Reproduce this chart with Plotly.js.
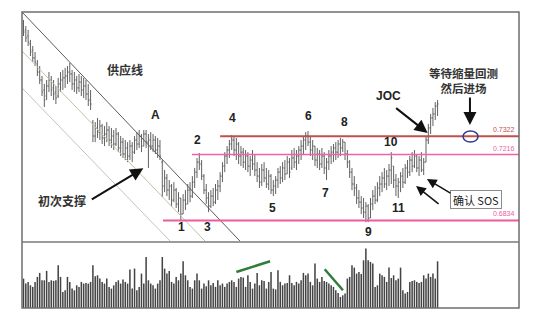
<!DOCTYPE html>
<html>
<head>
<meta charset="utf-8">
<script src="https://cdn.plot.ly/plotly-3.0.1.min.js"></script>
<style>
  html, body { margin: 0; padding: 0; background: #ffffff; }
  #chart { width: 544px; height: 321px; }
</style>
</head>
<body>
<div id="chart"></div>
<script>
// Daily price bars (open / high / low / close) and volume, oldest first.
const barOpen = [
  0.7973,0.7938,0.7903,0.7857,0.7822,0.7776,0.7741,0.7694,0.7648,0.7590,
  0.7555,0.7613,0.7648,0.7602,0.7578,0.7555,0.7625,0.7648,0.7660,0.7671,
  0.7694,0.7683,0.7625,0.7648,0.7602,0.7636,0.7590,0.7613,0.7567,0.7532,
  0.7404,0.7323,0.7370,0.7346,0.7381,0.7312,0.7335,0.7358,0.7300,0.7323,
  0.7277,0.7335,0.7254,0.7288,0.7219,0.7254,0.7207,0.7265,0.7230,0.7300,
  0.7277,0.7323,0.7265,0.7335,0.7288,0.7300,0.7265,0.7300,0.7242,0.7265,
  0.7172,0.7033,0.7080,0.7010,0.7033,0.6952,0.7010,0.6929,0.6964,0.6871,
  0.6952,0.6929,0.7010,0.6975,0.7056,0.7114,0.7172,0.7161,0.7091,0.7010,
  0.6964,0.6917,0.6975,0.6940,0.7010,0.7033,0.7091,0.7149,0.7207,0.7242,
  0.7277,0.7300,0.7242,0.7277,0.7207,0.7230,0.7172,0.7207,0.7149,0.7184,
  0.7161,0.7126,0.7091,0.7056,0.7126,0.7080,0.7045,0.7091,0.7010,0.7033,
  0.7068,0.7114,0.7080,0.7138,0.7103,0.7172,0.7138,0.7196,0.7172,0.7207,
  0.7242,0.7265,0.7300,0.7323,0.7288,0.7242,0.7265,0.7184,0.7219,0.7161,
  0.7207,0.7138,0.7172,0.7207,0.7230,0.7254,0.7230,0.7277,0.7254,0.7288,
  0.7219,0.7172,0.7114,0.7045,0.7022,0.6964,0.6940,0.6906,0.6882,0.6917,
  0.6848,0.6929,0.6975,0.6952,0.7022,0.7045,0.7080,0.7045,0.7091,0.7126,
  0.7149,0.7068,0.7033,0.7056,0.7091,0.7056,0.7138,0.7114,0.7184,0.7149,
  0.7207,0.7138,0.7184,0.7126,0.7172,0.7300,0.7370,0.7428,0.7451,0.7497
];
const barHigh = [
  0.7996,0.7961,0.7938,0.7880,0.7845,0.7810,0.7764,0.7729,0.7671,0.7625,
  0.7648,0.7694,0.7671,0.7648,0.7613,0.7660,0.7694,0.7706,0.7718,0.7729,
  0.7747,0.7706,0.7694,0.7671,0.7683,0.7671,0.7660,0.7648,0.7625,0.7590,
  0.7416,0.7404,0.7428,0.7416,0.7393,0.7381,0.7404,0.7381,0.7370,0.7358,
  0.7370,0.7346,0.7323,0.7312,0.7300,0.7288,0.7300,0.7288,0.7323,0.7346,
  0.7358,0.7335,0.7358,0.7358,0.7335,0.7346,0.7335,0.7323,0.7312,0.7300,
  0.7184,0.7126,0.7103,0.7068,0.7045,0.7056,0.7022,0.6998,0.6964,0.6987,
  0.7010,0.7045,0.7056,0.7091,0.7138,0.7196,0.7225,0.7184,0.7103,0.7045,
  0.6998,0.7010,0.7022,0.7045,0.7068,0.7114,0.7172,0.7230,0.7265,0.7300,
  0.7329,0.7323,0.7312,0.7288,0.7265,0.7254,0.7242,0.7230,0.7207,0.7242,
  0.7219,0.7172,0.7138,0.7161,0.7172,0.7138,0.7126,0.7103,0.7068,0.7091,
  0.7138,0.7149,0.7172,0.7184,0.7207,0.7196,0.7242,0.7254,0.7242,0.7265,
  0.7300,0.7323,0.7346,0.7352,0.7323,0.7300,0.7265,0.7254,0.7242,0.7254,
  0.7230,0.7196,0.7242,0.7265,0.7277,0.7288,0.7300,0.7312,0.7306,0.7288,
  0.7242,0.7184,0.7138,0.7091,0.7045,0.7010,0.6975,0.6964,0.6940,0.6929,
  0.6964,0.7010,0.7033,0.7056,0.7091,0.7114,0.7138,0.7126,0.7161,0.7230,
  0.7149,0.7103,0.7080,0.7114,0.7138,0.7161,0.7184,0.7207,0.7230,0.7242,
  0.7219,0.7207,0.7230,0.7196,0.7323,0.7393,0.7451,0.7486,0.7520,0.7532
];
const barLow = [
  0.7903,0.7868,0.7845,0.7787,0.7752,0.7729,0.7671,0.7625,0.7555,0.7491,
  0.7532,0.7578,0.7555,0.7532,0.7509,0.7544,0.7578,0.7590,0.7602,0.7625,
  0.7636,0.7590,0.7578,0.7567,0.7578,0.7555,0.7544,0.7532,0.7497,0.7474,
  0.7288,0.7288,0.7312,0.7300,0.7277,0.7265,0.7288,0.7265,0.7254,0.7242,
  0.7265,0.7230,0.7207,0.7196,0.7184,0.7172,0.7184,0.7172,0.7219,0.7242,
  0.7254,0.7230,0.7265,0.7254,0.7138,0.7242,0.7230,0.7219,0.7196,0.7184,
  0.6969,0.6998,0.6975,0.6952,0.6917,0.6940,0.6906,0.6882,0.6836,0.6871,
  0.6894,0.6929,0.6940,0.6964,0.7022,0.7080,0.7126,0.7068,0.6987,0.6929,
  0.6882,0.6906,0.6917,0.6929,0.6952,0.6998,0.7056,0.7114,0.7161,0.7196,
  0.7242,0.7207,0.7184,0.7161,0.7149,0.7138,0.7126,0.7114,0.7091,0.7126,
  0.7091,0.7056,0.7022,0.7033,0.7056,0.7022,0.7010,0.6987,0.6975,0.6987,
  0.7022,0.7045,0.7056,0.7068,0.7103,0.7080,0.7126,0.7138,0.7126,0.7161,
  0.7184,0.7219,0.7242,0.7265,0.7207,0.7184,0.7149,0.7138,0.7126,0.7138,
  0.7103,0.7068,0.7126,0.7161,0.7172,0.7184,0.7196,0.7207,0.7230,0.7184,
  0.7138,0.7080,0.7010,0.6975,0.6929,0.6906,0.6871,0.6848,0.6824,0.6824,
  0.6848,0.6894,0.6929,0.6940,0.6975,0.6998,0.7022,0.7010,0.7033,0.7045,
  0.7022,0.6975,0.6964,0.6998,0.7022,0.7045,0.7080,0.7091,0.7114,0.7138,
  0.7114,0.7091,0.7114,0.7097,0.7172,0.7277,0.7335,0.7381,0.7416,0.7439
];
const barClose = [
  0.7926,0.7892,0.7868,0.7810,0.7776,0.7752,0.7694,0.7648,0.7578,0.7532,
  0.7613,0.7648,0.7590,0.7567,0.7544,0.7625,0.7648,0.7660,0.7671,0.7694,
  0.7683,0.7625,0.7648,0.7602,0.7636,0.7590,0.7613,0.7567,0.7532,0.7509,
  0.7323,0.7370,0.7346,0.7381,0.7312,0.7335,0.7358,0.7300,0.7323,0.7277,
  0.7335,0.7254,0.7288,0.7219,0.7254,0.7207,0.7265,0.7230,0.7300,0.7277,
  0.7323,0.7265,0.7335,0.7288,0.7300,0.7265,0.7300,0.7242,0.7265,0.7207,
  0.7033,0.7080,0.7010,0.7033,0.6952,0.7010,0.6929,0.6964,0.6871,0.6952,
  0.6929,0.7010,0.6975,0.7056,0.7114,0.7172,0.7161,0.7091,0.7010,0.6964,
  0.6917,0.6975,0.6940,0.7010,0.7033,0.7091,0.7149,0.7207,0.7242,0.7277,
  0.7300,0.7242,0.7277,0.7207,0.7230,0.7172,0.7207,0.7149,0.7184,0.7161,
  0.7126,0.7091,0.7056,0.7126,0.7080,0.7045,0.7091,0.7010,0.7033,0.7068,
  0.7114,0.7080,0.7138,0.7103,0.7172,0.7114,0.7196,0.7172,0.7207,0.7242,
  0.7265,0.7300,0.7323,0.7288,0.7242,0.7265,0.7184,0.7219,0.7161,0.7207,
  0.7138,0.7172,0.7207,0.7230,0.7254,0.7230,0.7277,0.7254,0.7288,0.7219,
  0.7172,0.7114,0.7045,0.7022,0.6964,0.6940,0.6906,0.6882,0.6917,0.6848,
  0.6929,0.6975,0.6952,0.7022,0.7045,0.7080,0.7045,0.7091,0.7126,0.7196,
  0.7068,0.7033,0.7056,0.7091,0.7056,0.7138,0.7114,0.7184,0.7149,0.7207,
  0.7138,0.7184,0.7126,0.7172,0.7300,0.7370,0.7428,0.7451,0.7497,0.7509
];
const volume = [
  294,244,261,227,211,261,311,351,277,277,
  371,261,277,271,277,427,311,161,177,311,
  261,194,177,227,211,261,244,251,244,261,
  427,317,327,294,261,244,294,211,194,227,
  261,277,244,284,261,244,384,194,394,177,
  211,344,244,510,277,244,227,194,244,277,
  510,394,344,371,261,244,311,277,344,467,
  327,277,211,194,277,344,277,194,244,217,
  277,227,251,211,277,227,244,211,244,261,
  277,261,211,294,311,304,211,327,261,194,
  244,351,227,277,271,194,261,361,194,186,
  377,261,227,244,251,327,251,227,261,244,
  277,351,327,344,261,227,444,294,261,311,
  271,261,244,227,211,177,150,111,127,144,
  294,311,427,404,344,361,340,477,594,477,
  461,444,211,227,344,327,311,261,404,300,
  327,277,294,404,177,144,161,261,271,277,
  261,251,261,327,294,344,311,344,294,467
];
const barIndex = volume.map((_, i) => i);

// Horizontal support / resistance levels
const levelPrices = [0.7322, 0.7216, 0.6834];
const levelStart = [85, 72.8, 60.3];
const levelColors = ['#c0504d', '#f062a6', '#ec5a9f'];
const levelWidths = [2, 1.5, 2];

// Down-channel lines: [startIndex, startPrice, endIndex, endPrice]
const supplyLine = [-0.65, 0.8042, 93.6, 0.6714];
const channelMid = [-0.65, 0.7816, 78.5, 0.6714];
const channelLow = [-0.65, 0.7602, 63.4, 0.6714];

// Volume trend lines: [startIndex, startVol, endIndex, endVol]
const volRise = [92, 360, 106.6, 467];
const volFall = [130.2, 387, 138.1, 177];

const xMin = -0.65, xMax = 214.2;
const priceRange = [0.6709, 0.8042];
const volRange = [0, 660];
const volShare = 66 / 296;

const cjk = 'Noto Sans CJK SC, sans-serif';
const latin = 'Liberation Sans, Arial, sans-serif';

const priceTrace = {
  type: 'ohlc',
  x: barIndex, open: barOpen, high: barHigh, low: barLow, close: barClose,
  xaxis: 'x', yaxis: 'y',
  increasing: { line: { color: '#616161', width: 1 } },
  decreasing: { line: { color: '#616161', width: 1 } },
  tickwidth: 0.45,
  hoverinfo: 'skip', showlegend: false
};
const volumeTrace = {
  type: 'bar',
  x: barIndex, y: volume,
  xaxis: 'x', yaxis: 'y2',
  width: 0.66,
  marker: { color: '#444444', line: { width: 0 } },
  hoverinfo: 'skip', showlegend: false
};

const shapes = [];
function seg(c, color, width, yref) {
  shapes.push({ type: 'line', xref: 'x', yref: yref || 'y', x0: c[0], y0: c[1], x1: c[2], y1: c[3],
    line: { color: color, width: width } });
}
seg(channelLow, '#c4c4bc', 1);
seg(channelMid, '#c2c2aa', 1);
seg(supplyLine, '#5a5a5a', 1);
levelPrices.forEach((p, i) => {
  shapes.push({ type: 'line', xref: 'x', yref: 'y', x0: levelStart[i], x1: xMax, y0: p, y1: p,
    line: { color: levelColors[i], width: levelWidths[i] } });
});
seg(volRise, '#2f7d3a', 2.5, 'y2');
seg(volFall, '#2f7d3a', 2.5, 'y2');
// retest target ring at the breakout level
shapes.push({ type: 'circle', xref: 'x', yref: 'y', x0: 190.0, x1: 196.5, y0: 0.7288, y1: 0.7352,
  line: { color: '#2e3a8c', width: 1.5 } });
// panel frame and divider
shapes.push({ type: 'rect', xref: 'paper', yref: 'paper', x0: 0, x1: 1, y0: 0, y1: 1,
  line: { color: '#6e6e6e', width: 1.5 } });
shapes.push({ type: 'line', xref: 'paper', yref: 'paper', x0: 0, x1: 1, y0: volShare, y1: volShare,
  line: { color: '#7a7a7a', width: 1.5 } });

const annotations = [];
function label(text, x, y, opts) {
  annotations.push(Object.assign({ text: text, x: x, y: y, xref: 'x', yref: 'y', showarrow: false,
    xanchor: 'center', yanchor: 'middle',
    font: { family: latin, size: 12, color: '#222222', weight: 'bold' } }, opts || {}));
}
function arrow(x, y, ax, ay, w) {
  annotations.push({ text: '', x: x, y: y, xref: 'x', yref: 'y', ax: ax, ay: ay,
    showarrow: true, arrowhead: 2, arrowsize: 1.3, arrowwidth: w || 2, arrowcolor: '#111111',
    standoff: 0, startstandoff: 0 });
}
const cjkFont = { family: cjk, size: 12, color: '#333333', weight: 'bold' };

label('A', 56.9, 0.7445);
label('1', 68.5, 0.6795);
label('2', 75.4, 0.7300);
label('3', 79.5, 0.6795);
label('4', 90.4, 0.7429);
label('5', 107.6, 0.6907);
label('6', 123.1, 0.7441);
label('7', 130.7, 0.6991);
label('8', 138.7, 0.7403);
label('9', 149.1, 0.6768);
label('10', 158.9, 0.7287);
label('11', 162.0, 0.6904);
label('JOC', 157.7, 0.7557);
label('供应线', 43.9, 0.7706, { font: cjkFont });
label('初次支撑', 16.5, 0.6948, { font: cjkFont });
label('等待缩量回测<br>然后进场', 190.0, 0.7645, { font: Object.assign({}, cjkFont, { size: 11.5 }) });
label('确认 SOS', 195.4, 0.6955, { font: { family: cjk, size: 11, color: '#222222' },
  bgcolor: '#ffffff', bordercolor: '#8c8c8c', borderwidth: 1, borderpad: 2, width: 46, height: 13 });

levelPrices.forEach((p, i) => {
  annotations.push({ text: p.toFixed(4), xref: 'paper', yref: 'y', x: 1, y: p, xshift: -2, yshift: 1,
    xanchor: 'right', yanchor: 'bottom', showarrow: false,
    font: { family: latin, size: 7, color: levelColors[i] } });
});

arrow(51.8, 0.7136, -53, 32, 2);     // initial support
arrow(174.7, 0.7341, -33, -26, 2);   // jump across the creek
arrow(193.0, 0.7387, 0, -29, 2);     // wait for low-volume retest
arrow(169.7, 0.7033, 24, 19, 1.5);   // SOS confirmations
arrow(174.4, 0.7074, 25, 15, 1.5);

const hidden = { showgrid: false, zeroline: false, showticklabels: false, ticks: '', showline: false };
const layout = {
  width: 544, height: 321,
  margin: { l: 22, r: 25, t: 12, b: 13, pad: 0 },
  paper_bgcolor: '#ffffff', plot_bgcolor: '#ffffff',
  showlegend: false,
  xaxis: Object.assign({ range: [xMin, xMax], rangeslider: { visible: false }, anchor: 'y2', fixedrange: true }, hidden),
  yaxis: Object.assign({ domain: [volShare, 1], range: priceRange, fixedrange: true }, hidden),
  yaxis2: Object.assign({ domain: [0, volShare], range: volRange, anchor: 'x', fixedrange: true }, hidden),
  shapes: shapes,
  annotations: annotations
};

Plotly.newPlot('chart', [volumeTrace, priceTrace], layout, { staticPlot: true, displayModeBar: false });
</script>
</body>
</html>
